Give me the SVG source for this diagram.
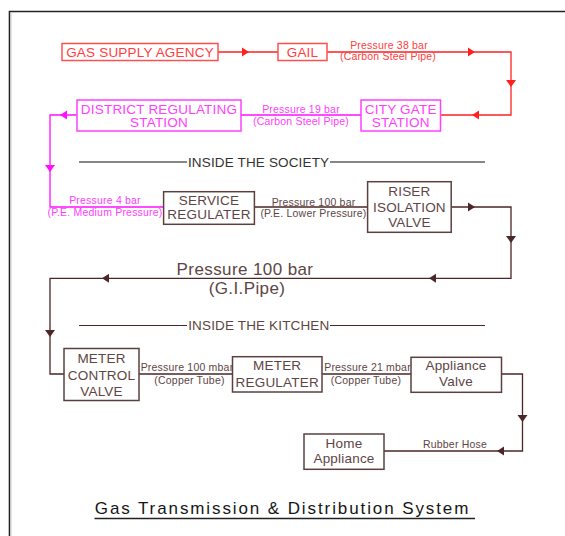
<svg xmlns="http://www.w3.org/2000/svg" xmlns:xlink="http://www.w3.org/1999/xlink" width="565" height="536" viewBox="0 0 565 536">
  <style>
    text { font-family: "Liberation Sans", Arial, sans-serif; text-anchor: middle; }
    .node { font-size: 13.5px; letter-spacing: 0.2px; }
    .lbl { font-size: 10.5px; letter-spacing: 0.2px; }
    .box { fill: #fff; stroke-width: 1.5; }
    .pipe { fill: none; stroke-width: 1.3; }
    .red .box { stroke: #ff5050; }
    .red text { fill: #ff4040; }
    .red-pipe { stroke: #ff2020; }
    .mag .box { stroke: #ff40ff; }
    .mag text { fill: #ff40ff; }
    .mag-pipe { stroke: #ff10ff; }
    .brn .box { stroke: #5c4040; }
    .brn text { fill: #5d4545; }
    .brn-pipe { stroke: #4b2727; }
    .sec { font-size: 13.5px; letter-spacing: 0.15px; }
  </style>
  <defs>
    <!-- filled arrowheads, tip at the origin -->
    <path id="ah-r" d="M0,0 L-7,-4.5 L-7,4.5 Z"/>
    <path id="ah-l" d="M0,0 L7,-4.5 L7,4.5 Z"/>
    <path id="ah-d" d="M0,0 L-5,-7 L5,-7 Z"/>
  </defs>

  <!-- page frame -->
  <path d="M9.5,536 V11.5 H565" fill="none" stroke="#222" stroke-width="1.6"/>
  <line x1="11" y1="12.5" x2="11" y2="536" stroke="#d0d0d0" stroke-width="1.2"/>

  <!-- connectors -->
  <g id="connectors">
    <g fill="#ff2020">
      <path class="pipe red-pipe" d="M218,52 H278 M327,52 H511 V115 H440.5"/>
      <use xlink:href="#ah-r" x="249" y="52"/>
      <use xlink:href="#ah-r" x="475" y="52"/>
      <use xlink:href="#ah-d" x="511" y="87"/>
      <use xlink:href="#ah-l" x="472" y="115"/>
    </g>
    <g fill="#ff10ff">
      <path class="pipe mag-pipe" d="M361,115 H241 M77,115 H50 V207 H163.6"/>
      <use xlink:href="#ah-l" x="60" y="115"/>
      <use xlink:href="#ah-d" x="50" y="172"/>
    </g>
    <g fill="#4b2727">
      <path class="pipe brn-pipe" d="M254.4,207 H367.6 M451.2,207 H511 V278.3 H50 V374 H64 M139,374 H232.5 M322,374 H411 M501.5,374 H522.5 V451 H384"/>
      <use xlink:href="#ah-r" x="475" y="207"/>
      <use xlink:href="#ah-d" x="511" y="243"/>
      <use xlink:href="#ah-l" x="429" y="278.3"/>
      <use xlink:href="#ah-l" x="102" y="278.3"/>
      <use xlink:href="#ah-d" x="50" y="337"/>
      <use xlink:href="#ah-d" x="522.5" y="422"/>
      <use xlink:href="#ah-l" x="497" y="451"/>
    </g>
  </g>

  <!-- pipe labels -->
  <g class="red">
    <text class="lbl" x="389" y="48.5">Pressure 38 bar</text>
    <text class="lbl" x="388" y="60">(Carbon Steel Pipe)</text>
  </g>
  <g class="mag">
    <text class="lbl" x="301" y="112.5">Pressure 19 bar</text>
    <text class="lbl" x="301" y="124.5">(Carbon Steel Pipe)</text>
    <text class="lbl" x="105" y="204">Pressure 4 bar</text>
    <text class="lbl" x="105" y="215.5">(P.E. Medium Pressure)</text>
  </g>
  <g class="brn">
    <text class="lbl" x="313.5" y="205.5">Pressure 100 bar</text>
    <text class="lbl" x="313.5" y="216.7">(P.E. Lower Pressure)</text>
    <text x="245" y="274.5" style="font-size:17px;letter-spacing:0.4px">Pressure 100 bar</text>
    <text x="247" y="294" style="font-size:17px;letter-spacing:0.4px">(G.I.Pipe)</text>
    <text class="lbl" x="187" y="370.7">Pressure 100 mbar</text>
    <text class="lbl" x="189.5" y="383.5">(Copper Tube)</text>
    <text class="lbl" x="367.5" y="370.7">Pressure 21 mbar</text>
    <text class="lbl" x="366" y="383.5">(Copper Tube)</text>
    <text class="lbl" x="455" y="448.3">Rubber Hose</text>
  </g>

  <!-- section dividers -->
  <g id="inside-society">
    <path d="M79,162 H187 M330,162 H485" stroke="#111" stroke-width="1.2"/>
    <text class="sec" x="258.6" y="166.5" fill="#333">INSIDE THE SOCIETY</text>
  </g>
  <g id="inside-kitchen">
    <path d="M79,325.5 H187 M330,325.5 H485" stroke="#4b2727" stroke-width="1.2"/>
    <text class="sec" x="258.8" y="330" fill="#5d4545">INSIDE THE KITCHEN</text>
  </g>

  <!-- nodes -->
  <g id="gas-supply-agency" class="red">
    <rect class="box" x="62" y="43.5" width="156" height="17"/>
    <text class="node" x="140" y="57">GAS SUPPLY AGENCY</text>
  </g>
  <g id="gail" class="red">
    <rect class="box" x="278" y="43.5" width="49" height="17"/>
    <text class="node" x="302.5" y="57">GAIL</text>
  </g>
  <g id="city-gate-station" class="mag">
    <rect class="box" x="361" y="100" width="79.5" height="31"/>
    <text class="node" x="400.7" y="113.5">CITY GATE</text>
    <text class="node" x="400.7" y="127">STATION</text>
  </g>
  <g id="district-regulating-station" class="mag">
    <rect class="box" x="77" y="100" width="164" height="31"/>
    <text class="node" x="159" y="113.5">DISTRICT REGULATING</text>
    <text class="node" x="159" y="127">STATION</text>
  </g>
  <g id="service-regulater" class="brn">
    <rect class="box" x="163.6" y="191.7" width="90.8" height="32.6"/>
    <text class="node" x="209" y="205">SERVICE</text>
    <text class="node" x="209" y="219">REGULATER</text>
  </g>
  <g id="riser-isolation-valve" class="brn">
    <rect class="box" x="367.6" y="181.7" width="83.6" height="50.6"/>
    <text class="node" x="409.4" y="195.5">RISER</text>
    <text class="node" x="409.4" y="211.5">ISOLATION</text>
    <text class="node" x="409.4" y="227">VALVE</text>
  </g>
  <g id="meter-control-valve" class="brn">
    <rect class="box" x="64" y="348.5" width="75" height="52"/>
    <text class="node" x="101.5" y="363">METER</text>
    <text class="node" x="101.5" y="379.5">CONTROL</text>
    <text class="node" x="101.5" y="395.5">VALVE</text>
  </g>
  <g id="meter-regulater" class="brn">
    <rect class="box" x="232.5" y="356.7" width="89.5" height="35.3"/>
    <text class="node" x="277.2" y="370">METER</text>
    <text class="node" x="277.2" y="386.5">REGULATER</text>
  </g>
  <g id="appliance-valve" class="brn">
    <rect class="box" x="411" y="357.3" width="90.5" height="35"/>
    <text class="node" x="456" y="370">Appliance</text>
    <text class="node" x="456" y="386">Valve</text>
  </g>
  <g id="home-appliance" class="brn">
    <rect class="box" x="304" y="434" width="80" height="35.3"/>
    <text class="node" x="344" y="448">Home</text>
    <text class="node" x="344" y="463">Appliance</text>
  </g>

  <!-- caption -->
  <g id="title">
    <text x="282.5" y="514.3" fill="#151515" style="font-size:17px;letter-spacing:1.9px">Gas Transmission &amp; Distribution System</text>
    <line x1="94.5" y1="518.5" x2="475" y2="518.5" stroke="#222" stroke-width="1.3"/>
  </g>
</svg>
